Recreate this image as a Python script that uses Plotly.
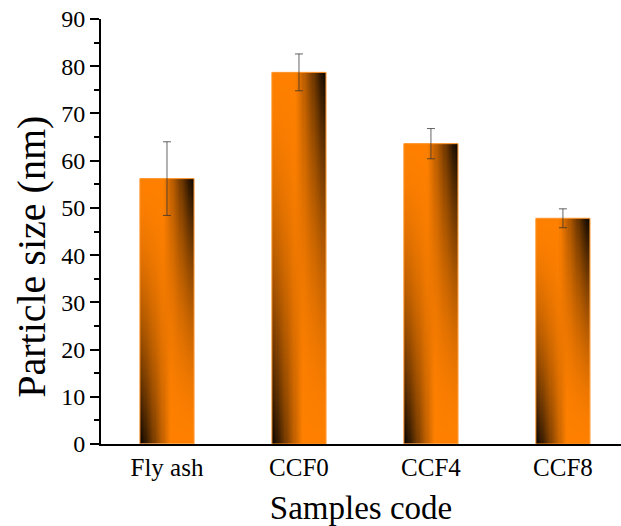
import numpy as np
import plotly.graph_objects as go

categories = ["Fly ash", "CCF0", "CCF4", "CCF8"]
sizes = [56.2, 78.7, 63.6, 47.8]
errors = [7.8, 3.9, 3.2, 2.0]
y_ticks = [0, 10, 20, 30, 40, 50, 60, 70, 80, 90]

BAR_W = 0.41
ORANGE = "#FF8000"
FONT = "Liberation Serif"

positions = list(range(len(categories)))
fig = go.Figure()

nx, ny = 48, 140
for pos, val in zip(positions, sizes):
    xe = pos - BAR_W / 2 + np.linspace(0, 1, nx + 1) * BAR_W
    ye = np.linspace(0, val, ny + 1)
    u = (np.arange(nx) + 0.5) / nx
    v = (np.arange(ny) + 0.5) / ny
    U, V = np.meshgrid(u, v)
    right = np.clip((U - 0.42) / 0.58, 0, 1) ** 1.1
    left = np.clip((0.58 - U) / 0.58, 0, 1) ** 1.1
    z = np.clip(V ** 1.7 * right + (1 - V) ** 1.7 * left, 0, 1)
    fig.add_trace(go.Heatmap(x=xe, y=ye, z=z, zmin=0, zmax=1,
                             colorscale=[[0, ORANGE], [1, "#000000"]],
                             showscale=False, hoverinfo="skip"))
    fig.add_trace(go.Scatter(
        x=[pos - BAR_W / 2, pos - BAR_W / 2, pos + BAR_W / 2, pos + BAR_W / 2, pos - BAR_W / 2],
        y=[0, val, val, 0, 0], mode="lines",
        line=dict(color="#FF9326", width=1), showlegend=False, hoverinfo="skip"))

fig.add_trace(go.Scatter(
    x=positions, y=sizes, mode="markers",
    marker=dict(size=1, opacity=0),
    error_y=dict(type="data", array=errors, color="rgba(50,50,50,0.75)",
                 thickness=1, width=4),
    showlegend=False))

fig.update_layout(
    width=621, height=526,
    margin=dict(l=101, r=0, t=19, b=82),
    plot_bgcolor="white", paper_bgcolor="white",
    font=dict(family=FONT, color="black"),
    showlegend=False,
)
fig.add_annotation(
    text="Particle size (nm)", textangle=-90,
    xref="paper", yref="paper", x=-0.135, y=0.44,
    xanchor="center", yanchor="middle", showarrow=False,
    font=dict(size=40, family=FONT, color="black"),
)
fig.update_xaxes(
    range=[-0.5, 3.44], tickvals=positions, ticktext=categories,
    ticks="", showline=True, linewidth=2, linecolor="black",
    showgrid=False, zeroline=False, tickfont=dict(size=25, family=FONT),
    title=dict(text="Samples code", font=dict(size=33, family=FONT), standoff=18),
    automargin=False,
)
fig.update_yaxes(
    range=[0, 90], tickvals=y_ticks, ticks="outside", ticklen=9, tickwidth=2,
    tickcolor="black", showline=True, linewidth=2, linecolor="black",
    showgrid=False, zeroline=False, tickfont=dict(size=24, family=FONT),
    minor=dict(dtick=5, ticks="outside", ticklen=5, tickwidth=2, tickcolor="black"),
    automargin=False,
)

fig.write_html("out.html")
